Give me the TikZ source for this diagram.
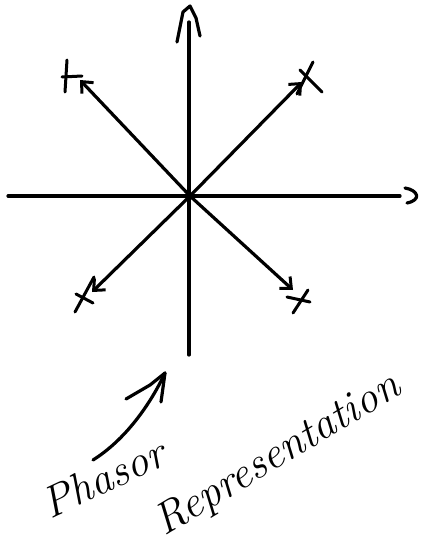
\documentclass[tikz,border=0pt]{standalone}
\usetikzlibrary{arrows.meta}
\tikzset{
  pen/.style={line width=3.2pt, line cap=round, line join=round, black},
  vec/.style={pen, -{Straight Barb[length=9pt, width=16pt, line width=3pt]}},
  crossmark/.style={pen, line width=3pt},
  hand/.style={font=\fontsize{44}{46}\selectfont\itshape, inner sep=0pt}
}
\begin{document}
\begin{tikzpicture}[x=1pt, y=-1pt]
  \useasboundingbox (0,0) rectangle (422,548);
  % axes
  \coordinate (o) at (190,196);
  \coordinate (ytop) at (189,22);
  \coordinate (ybot) at (189,355);
  \coordinate (xl) at (8,196);
  \coordinate (xr) at (400,196);
  \draw[pen] (ybot) -- (ytop);
  \draw[pen] (177,42) -- (183,12) -- (190,6) -- (196,18) -- (200,36);
  \draw[pen] (xl) -- (xr);
  \draw[pen] (405,188) .. controls (418,190) and (422,200) .. (407,203);
  % phasors
  \coordinate (nw) at (80,80);
  \coordinate (ne) at (302,82);
  \coordinate (sw) at (92,292);
  \coordinate (se) at (293,290);
  \draw[vec] (o) -- (nw);
  \draw[vec] (o) -- (ne);
  \draw[vec] (o) -- (sw);
  \draw[vec] (o) -- (se);
  % cross marks
  \draw[crossmark] (67,60) -- (65,92);  \draw[crossmark] (62,77) -- (82,76);
  \draw[crossmark] (297,94) -- (313,62); \draw[crossmark] (300,70) -- (322,92);
  \draw[crossmark] (75,312) -- (94,277); \draw[crossmark] (76,294) -- (93,303);
  \draw[crossmark] (293,313) -- (308,290); \draw[crossmark] (287,297) -- (310,302);
  % labels
  \node[hand, rotate=25] (phasor) at (103,478) {Phasor};
  \node[hand, rotate=31] (repr) at (278,456) {Representation};
  % curved arrow
  \coordinate (cstart) at (93,460);
  \coordinate (cend) at (165,373);
  \draw[pen] (cstart) .. controls (125,440) and (150,405) .. (cend);
  \draw[pen] (126,399) -- (150,385) -- (165,373) -- (161,402);
\end{tikzpicture}
\end{document}
